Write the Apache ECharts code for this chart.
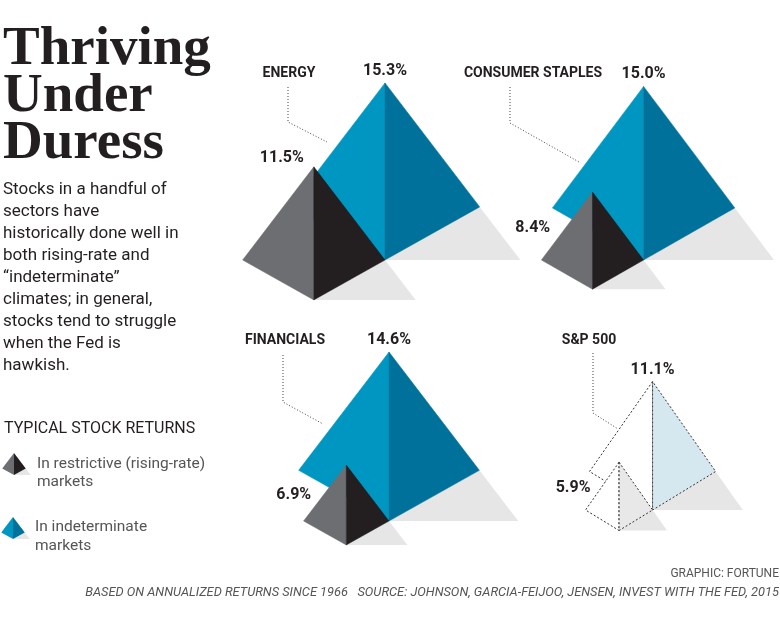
<!DOCTYPE html>
<html>
<head>
<meta charset="utf-8">
<title>Thriving Under Duress</title>
<script src="https://cdn.jsdelivr.net/npm/echarts@6/dist/echarts.min.js"></script>
<style>
html, body { margin: 0; padding: 0; background: #fff; }
#chart { width: 780px; height: 630px; }
</style>
</head>
<body>
<div id="chart"></div>
<script>
// typical annualized stock returns (%) read off the graphic
const sectors = ['ENERGY', 'CONSUMER STAPLES', 'FINANCIALS', 'S&P 500'];
const indeterminate = [15.3, 15.0, 14.6, 11.1];
const restrictive = [11.5, 8.4, 6.9, 5.9];

// pyramid proportions, relative to height
const W_RATIO = 0.535;   // half width
const CORNER = 0.30;     // side corners above the bottom point
const TIP = 0.765;       // shadow tip, right of the centre line
const PX = 11.57;        // pixels per percentage point

const BLUE_L = '#0096c2', BLUE_R = '#00719a';
const GRAY_L = '#6d6e71', GRAY_R = '#231f20';
const SHADOW = '#e6e6e6';
const INK = '#231f20';
const SANS = 'Roboto, "Liberation Sans", sans-serif';

// anchor = bottom point of the big pyramid, in page pixels
const panels = [
    { x: 385, y: 260, grayLabel: 'top', outline: false },
    { x: 646, y: 260, grayLabel: 'left', outline: false },
    { x: 389, y: 521, grayLabel: 'left', outline: false },
    { x: 664, y: 510, grayLabel: 'left', outline: true },
];

function poly(points, style) {
    return { type: 'polygon', shape: { points: points }, style: style };
}

function pyramidRenderer(panel) {
    return function (params, api) {
        const big = api.value(0);
        const small = api.value(1);
        const shape = (cx, base, h) => {
            const w = W_RATIO * h, c = base + CORNER * h;
            return {
                apex: api.coord([cx, base + h]),
                left: api.coord([cx - w, c]),
                right: api.coord([cx + w, c]),
                bottom: api.coord([cx, base]),
                tip: api.coord([cx + TIP * h, base]),
            };
        };
        const b = shape(0, 0, big);
        // the small pyramid's right corner sits on the big one's bottom point
        const s = shape(-W_RATIO * small, -CORNER * small, small);
        const dash = { stroke: '#333', lineWidth: 1, lineDash: [2, 2] };
        const children = [
            poly([b.right, b.bottom, b.tip], { fill: SHADOW }),
            poly([s.right, s.bottom, s.tip], { fill: SHADOW }),
        ];
        if (panel.outline) {
            children.push(
                poly([b.apex, b.left, b.bottom], Object.assign({ fill: '#fff' }, dash)),
                poly([b.apex, b.bottom, b.right], Object.assign({ fill: '#d5e8f0' }, dash)),
                poly([s.apex, s.left, s.bottom], Object.assign({ fill: '#fff' }, dash)),
                poly([s.apex, s.bottom, s.right], Object.assign({ fill: '#e8e8e8' }, dash))
            );
        } else {
            children.push(
                poly([b.apex, b.left, b.bottom], { fill: BLUE_L, stroke: BLUE_L, lineWidth: 0.5 }),
                poly([b.apex, b.bottom, b.right], { fill: BLUE_R, stroke: BLUE_R, lineWidth: 0.5 }),
                poly([s.apex, s.left, s.bottom], { fill: GRAY_L, stroke: GRAY_L, lineWidth: 0.5 }),
                poly([s.apex, s.bottom, s.right], { fill: GRAY_R, stroke: GRAY_R, lineWidth: 0.5 })
            );
        }
        const labelFont = 'bold 16px ' + SANS;
        children.push({
            type: 'text', x: b.apex[0], y: b.apex[1] - 12,
            style: { text: big.toFixed(1) + '%', align: 'center', verticalAlign: 'middle', font: labelFont, fill: INK },
        });
        let lx, ly;
        if (panel.grayLabel === 'top') {
            lx = s.apex[0] - 10;
            ly = s.apex[1] - 9;
        } else {
            lx = (s.apex[0] + s.left[0]) / 2 - 2 * small;
            ly = (s.apex[1] + s.left[1]) / 2 + 2;
        }
        children.push({
            type: 'text', x: lx, y: ly,
            style: { text: small.toFixed(1) + '%', align: 'right', verticalAlign: 'middle', font: labelFont, fill: INK },
        });
        return { type: 'group', children: children };
    };
}

const grids = panels.map(p => ({
    left: p.x - 12 * PX, top: p.y - 17 * PX, width: 24 * PX, height: 21 * PX,
}));
const xAxes = panels.map((p, i) => ({ type: 'value', gridIndex: i, min: -12, max: 12, show: false }));
const yAxes = panels.map((p, i) => ({ type: 'value', gridIndex: i, min: -4, max: 17, show: false }));
const series = panels.map((p, i) => ({
    type: 'custom',
    name: sectors[i],
    xAxisIndex: i,
    yAxisIndex: i,
    silent: true,
    clip: false,
    renderItem: pyramidRenderer(p),
    data: [[indeterminate[i], restrictive[i]]],
}));

// sector names with their dotted leaders
const sectorLabels = [
    { x: 289, y: 73, leader: [[288, 87], [288, 122], [327, 142]] },
    { x: 533, y: 73, leader: [[510, 87], [510, 123], [579, 162]] },
    { x: 285, y: 340, leader: [[283, 355], [283, 402], [323, 424]] },
    { x: 589, y: 340, leader: [[593, 353], [593, 413], [618, 429]] },
];

// small legend pyramid in page pixels
function legendIcon(cx, bottom, h, left, right) {
    const w = W_RATIO * h, c = bottom - CORNER * h;
    const apex = [cx, bottom - h], l = [cx - w, c], r = [cx + w, c], btm = [cx, bottom];
    return [
        poly([r, btm, [cx + TIP * h, bottom]], { fill: SHADOW }),
        poly([apex, l, btm], { fill: left }),
        poly([apex, btm, r], { fill: right }),
    ];
}

const graphic = [
    { type: 'text', left: 3, top: 22, style: { text: 'Thriving\nUnder\nDuress', font: 'bold 55px "Liberation Serif", serif', lineHeight: 47, fill: INK } },
    {
        type: 'text', left: 3, top: 179,
        style: {
            text: ['Stocks in a handful of', 'sectors have', 'historically done well in', 'both rising-rate and',
                '\u201cindeterminate\u201d', 'climates; in general,', 'stocks tend to struggle', 'when the Fed is', 'hawkish.'].join('\n'),
            font: '17px ' + SANS, lineHeight: 22, fill: INK,
        },
    },
    { type: 'text', left: 4, top: 421, style: { text: 'TYPICAL STOCK RETURNS', font: '16px ' + SANS, fill: INK } },
    { type: 'text', left: 37, top: 455, style: { text: 'In restrictive (rising-rate)\nmarkets', font: '15.5px ' + SANS, lineHeight: 18, fill: '#555' } },
    { type: 'text', left: 35, top: 518, style: { text: 'In indeterminate\nmarkets', font: '15.5px ' + SANS, lineHeight: 19, fill: '#555' } },
    { type: 'text', right: 1, top: 568, style: { text: 'GRAPHIC: FORTUNE', font: '12px ' + SANS, fill: '#555' } },
    {
        type: 'text', right: 1, top: 586,
        style: { text: 'BASED ON ANNUALIZED RETURNS SINCE 1966   SOURCE: JOHNSON, GARCIA-FEIJOO, JENSEN, INVEST WITH THE FED, 2015', font: 'italic 12.8px ' + SANS, fill: '#555' },
    },
]
    .concat(legendIcon(14, 475, 22, GRAY_L, GRAY_R))
    .concat(legendIcon(13, 539, 22, BLUE_L, BLUE_R));

sectorLabels.forEach((s, i) => {
    graphic.push({
        type: 'polyline', shape: { points: s.leader },
        style: { stroke: '#444', lineWidth: 1, lineDash: [1, 2], fill: null },
    });
    graphic.push({
        type: 'text', x: s.x, y: s.y,
        style: { text: sectors[i], align: 'center', verticalAlign: 'middle', font: 'bold 14px ' + SANS, fill: INK },
    });
});

const chart = echarts.init(document.getElementById('chart'), null, { renderer: 'canvas' });
chart.setOption({
    animation: false,
    backgroundColor: '#fff',
    grid: grids,
    xAxis: xAxes,
    yAxis: yAxes,
    series: series,
    graphic: graphic,
});
</script>
</body>
</html>
